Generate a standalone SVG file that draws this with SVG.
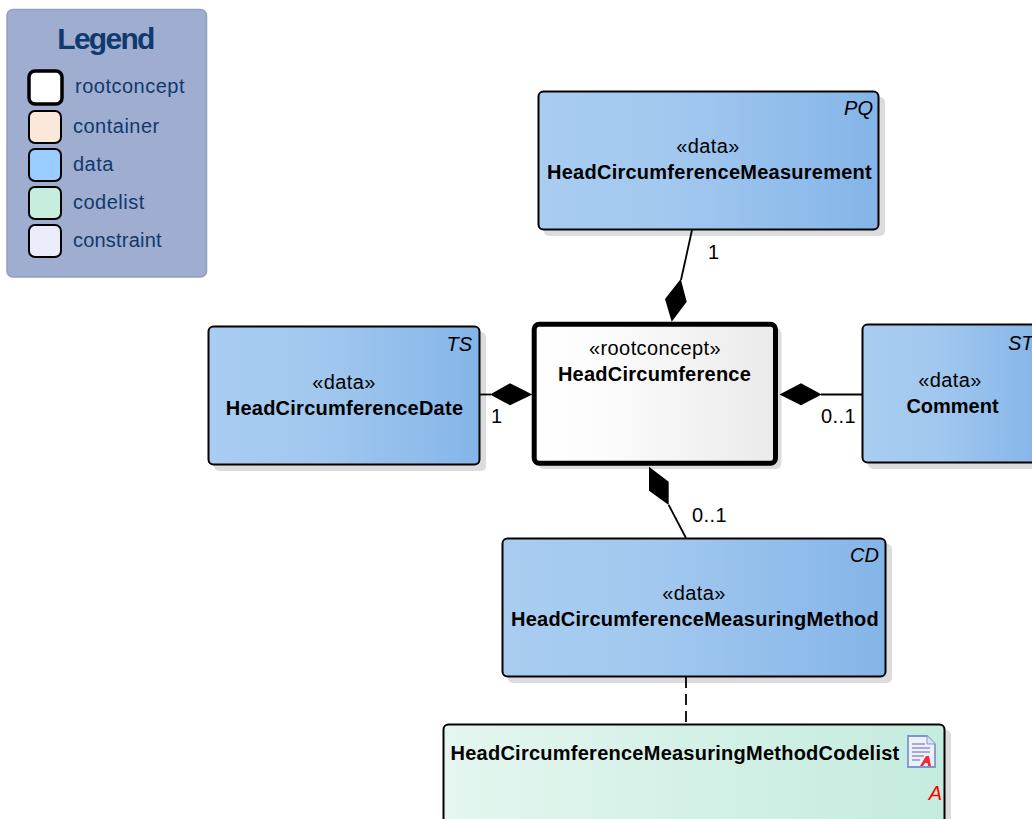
<svg xmlns="http://www.w3.org/2000/svg" width="1032" height="819" viewBox="0 0 1032 819">
<style>
text{font-family:"Liberation Sans",Arial,sans-serif;font-size:20px;fill:#000;letter-spacing:.4px}
.b{font-weight:bold;letter-spacing:.25px}.i{font-style:italic;letter-spacing:0}.m{text-anchor:middle}.e{text-anchor:end}
.lg{fill:#0f3a6b;letter-spacing:.5px}
.sw{stroke:#000;stroke-width:2}
.node{stroke:#000;stroke-width:2}
.sh{fill:#dcdcde}
.c{stroke:#000;stroke-width:1.800;fill:none}
.d{fill:#000;stroke:none}
</style>
<defs>
<linearGradient id="gd"><stop offset="0" stop-color="#a9cdf1"/><stop offset=".4" stop-color="#a2c8ef"/><stop offset="1" stop-color="#84b5e8"/></linearGradient>
<linearGradient id="gc"><stop offset="0" stop-color="#e4f6ef"/><stop offset="1" stop-color="#c4ecde"/></linearGradient>
<linearGradient id="gr"><stop offset="0" stop-color="#fff"/><stop offset=".3" stop-color="#fcfcfc"/><stop offset="1" stop-color="#eaeaea"/></linearGradient>
</defs>
<g id="legend">
<rect x="7" y="9.500" width="199.500" height="267.500" rx="6" fill="#9fadd0" stroke="#8f9fc6" stroke-width="1.500"/>
<text x="105.500" y="49" class="m b" style="font-size:30px;fill:#0f3a6b;letter-spacing:-1.700px">Legend</text>
<rect x="29" y="71" width="33" height="33" rx="6" fill="#fff" stroke="#000" stroke-width="3.500"/>
<text x="75" y="93" class="lg">rootconcept</text>
<rect x="29" y="111" width="32" height="32" rx="6" fill="#fbe8da" class="sw"/>
<text x="73" y="133" class="lg">container</text>
<rect x="29" y="149" width="32" height="32" rx="6" fill="#99ccff" class="sw"/>
<text x="73" y="171" class="lg">data</text>
<rect x="29" y="187" width="32" height="32" rx="6" fill="#c7eddf" class="sw"/>
<text x="73" y="209" class="lg">codelist</text>
<rect x="29" y="225" width="32" height="32" rx="6" fill="#ebedfd" class="sw"/>
<text x="73" y="247" class="lg" style="letter-spacing:.2px">constraint</text>
</g>
<g id="pq">
<rect class="sh" x="544" y="97" width="341" height="139" rx="5"/>
<rect class="node" x="538.500" y="91.500" width="340" height="138" rx="5" fill="url(#gd)"/>
<text x="873" y="115" class="i e">PQ</text>
<text x="708" y="153" class="m">«data»</text>
<text x="709.500" y="179" class="m b">HeadCircumferenceMeasurement</text>
</g>
<g id="ts">
<rect class="sh" x="214" y="332" width="272" height="139" rx="5"/>
<rect class="node" x="208.500" y="326.500" width="271" height="138" rx="5" fill="url(#gd)"/>
<text x="472" y="351" class="i e">TS</text>
<text x="344" y="389" class="m">«data»</text>
<text x="344.500" y="415" class="m b">HeadCircumferenceDate</text>
</g>
<g id="root">
<rect class="sh" x="538" y="328" width="243.500" height="141" rx="6"/>
<rect x="534.200" y="324.200" width="241.300" height="139" rx="5" fill="url(#gr)" stroke="#000" stroke-width="5"/>
<text x="655" y="355" class="m">«rootconcept»</text>
<text x="654.500" y="381" class="m b">HeadCircumference</text>
</g>
<g id="st">
<rect class="sh" x="868" y="330" width="170" height="139" rx="5"/>
<rect class="node" x="862.500" y="324.500" width="180" height="138" rx="5" fill="url(#gd)"/>
<text x="1008" y="350" class="i">ST</text>
<text x="950" y="387" class="m">«data»</text>
<text x="952.500" y="413" class="m b" style="letter-spacing:0">Comment</text>
</g>
<g id="cd">
<rect class="sh" x="508" y="544" width="384" height="139" rx="5"/>
<rect class="node" x="502.500" y="538.500" width="383" height="138" rx="5" fill="url(#gd)"/>
<text x="879" y="562" class="i e">CD</text>
<text x="694" y="600" class="m">«data»</text>
<text x="695" y="626" class="m b">HeadCircumferenceMeasuringMethod</text>
</g>
<g id="codelist">
<rect class="sh" x="449" y="730" width="502" height="100" rx="5"/>
<rect class="node" x="443.500" y="724.500" width="501" height="110" rx="5" fill="url(#gc)"/>
<text x="675" y="760" class="m b">HeadCircumferenceMeasuringMethodCodelist</text>
<path d="M908 736H927L935 744V767H908Z" fill="#eef0f9" stroke="#7f96cc" stroke-width="1.800"/>
<path d="M927 736V744H935" fill="#dfe4f4" stroke="#7f96cc"/>
<path d="M912 744H925M912 748H930M912 752H930M912 756H924M912 760H920" stroke="#9094c4" stroke-width="1.300" fill="none"/>
<path d="M920 766L926 756H929L931 766H928L927.500 763H925L923 766Z" fill="#ee2b3c"/>
<text x="942" y="800" class="i e" style="fill:#f00">A</text>
</g>
<g id="connectors">
<path class="c" d="M692 230L681 280"/>
<path class="d" d="M671.700 321.700L665 299L680.700 279L686.700 301.700Z"/>
<path class="c" d="M480 394.500H491"/>
<path class="d" d="M490 394.500L510 383.300L532.300 394.500L510 405.300Z"/>
<path class="c" d="M862 394.500H821"/>
<path class="d" d="M779.500 394.500L801 383.300L821.700 394.500L801 405.300Z"/>
<path class="c" d="M686 538L668.700 505"/>
<path class="d" d="M649 466.700L668.700 481.700L668.700 505L649 490.700Z"/>
<path class="c" d="M686 677V724" stroke-dasharray="11 6"/>
<text x="708" y="259">1</text>
<text x="491" y="423">1</text>
<text x="821" y="423">0..1</text>
<text x="692" y="522">0..1</text>
</g>
</svg>
